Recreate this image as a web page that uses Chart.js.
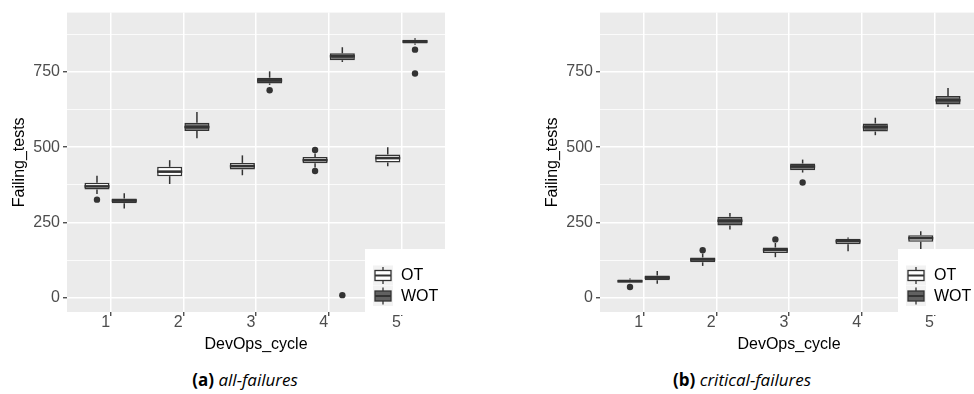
<!DOCTYPE html>
<html><head><meta charset="utf-8">
<script src="https://cdn.jsdelivr.net/npm/chart.js@4/dist/chart.umd.min.js"></script>
<style>
html,body{margin:0;padding:0;background:#fff;width:974px;height:394px;overflow:hidden;position:relative}
canvas{position:absolute;top:0}
#cA{left:0}
#cB{left:533px}
.cap{position:absolute;top:369px;font-family:"Open Sans",sans-serif;font-size:17px;line-height:22px;color:#000;white-space:nowrap;transform:translateX(-50%)}
.cap b{font-weight:700}
.cap i{font-style:italic}
</style></head><body>
<canvas id="cA" width="460" height="360"></canvas>
<canvas id="cB" width="460" height="360"></canvas>
<div class="cap" style="left:245px"><b>(a)</b> <i>all-failures</i></div>
<div class="cap" style="left:742px"><b>(b)</b> <i>critical-failures</i></div>
<script>
// ---- categories / labels ----
const cycles = ['1', '2', '3', '4', '5'];
const seriesNames = ['OT', 'WOT'];
const yTickValues = [0, 250, 500, 750];
const yMinorValues = [125, 375, 625, 875];
const xTitle = 'DevOps_cycle';
const yTitle = 'Failing_tests';

// ---- (a) all-failures ----
const allOT_lo  = [345, 378, 407, 433, 437];
const allOT_q1  = [360, 404, 426, 447, 449];
const allOT_med = [370, 419, 437, 457, 464];
const allOT_q3  = [382, 435, 448, 468, 476];
const allOT_hi  = [405, 457, 473, 479, 500];
const allOT_out = [[326], [], [], [421, 491], []];

const allWOT_lo  = [297, 530, 707, 783, 840];
const allWOT_q1  = [314, 554, 712, 789, 844];
const allWOT_med = [323, 567, 722, 802, 851];
const allWOT_q3  = [330, 581, 731, 812, 857];
const allWOT_hi  = [347, 617, 752, 832, 862];
const allWOT_out = [[], [], [689], [9], [824, 745]];

// ---- (b) critical-failures ----
const critOT_lo  = [51, 106, 135, 155, 158];
const critOT_q1  = [51, 118, 149, 178, 186];
const critOT_med = [55, 127, 159, 188, 198];
const critOT_q3  = [61, 134, 167, 196, 208];
const critOT_hi  = [64, 147, 182, 200, 221];
const critOT_out = [[36], [158], [194], [], []];

const critWOT_lo  = [47, 227, 416, 540, 634];
const critWOT_q1  = [58, 240, 424, 552, 642];
const critWOT_med = [67, 256, 436, 567, 656];
const critWOT_q3  = [74, 269, 446, 579, 670];
const critWOT_hi  = [89, 282, 459, 598, 697];
const critWOT_out = [[], [], [383], [], []];

// ---- styling ----
const FILLS = ['#FFFFFF', '#616161'];
const LINE = '#333333';
const PANEL = '#EBEBEB';
const FONT = '"Liberation Sans", Arial, sans-serif';

const boxPlugin = {
  id: 'boxExtras',
  beforeDraw(chart) {
    const {ctx, chartArea: a} = chart;
    ctx.save();
    ctx.fillStyle = PANEL;
    ctx.fillRect(a.left, a.top, a.right - a.left, a.bottom - a.top);
    ctx.restore();
  },
  afterDatasetsDraw(chart) {
    const ctx = chart.ctx, ys = chart.scales.y;
    const line = (x1, y1, x2, y2) => { ctx.beginPath(); ctx.moveTo(x1, y1); ctx.lineTo(x2, y2); ctx.stroke(); };
    chart.data.datasets.forEach((ds, di) => {
      const s = ds.stats;
      chart.getDatasetMeta(di).data.forEach((bar, i) => {
        const cx = bar.x, w = bar.width;
        ctx.save();
        ctx.strokeStyle = LINE;
        ctx.lineWidth = 1.5;
        line(cx, ys.getPixelForValue(s.hi[i]), cx, ys.getPixelForValue(s.q3[i]));
        line(cx, ys.getPixelForValue(s.q1[i]), cx, ys.getPixelForValue(s.lo[i]));
        ctx.lineWidth = 2.6;
        const ym = ys.getPixelForValue(s.med[i]);
        line(cx - w / 2, ym, cx + w / 2, ym);
        ctx.fillStyle = LINE;
        s.out[i].forEach(v => {
          ctx.beginPath();
          ctx.arc(cx, ys.getPixelForValue(v), 3.2, 0, Math.PI * 2);
          ctx.fill();
        });
        ctx.restore();
      });
    });
  },
  afterDraw(chart) {
    const ctx = chart.ctx, a = chart.chartArea;
    const bx = a.right - 80, by = a.bottom - 63;
    ctx.save();
    ctx.fillStyle = '#FFFFFF';
    ctx.fillRect(bx, by, 100, 66);
    chart.data.datasets.forEach((ds, k) => {
      const kx = bx + 8, ky = a.bottom - 46.5 + k * 20.5;
      ctx.fillStyle = '#F2F2F2';
      ctx.fillRect(kx, ky, 20, 20);
      ctx.fillStyle = ds.backgroundColor;
      ctx.strokeStyle = LINE;
      ctx.lineWidth = 1.3;
      ctx.fillRect(kx + 2, ky + 5, 16, 10);
      ctx.strokeRect(kx + 2, ky + 5, 16, 10);
      ctx.beginPath();
      ctx.moveTo(kx + 10, ky + 1.5); ctx.lineTo(kx + 10, ky + 5);
      ctx.moveTo(kx + 10, ky + 15); ctx.lineTo(kx + 10, ky + 18.5);
      ctx.stroke();
      ctx.lineWidth = 2;
      ctx.beginPath(); ctx.moveTo(kx + 2, ky + 10); ctx.lineTo(kx + 18, ky + 10); ctx.stroke();
      ctx.fillStyle = '#000';
      ctx.font = '16px ' + FONT;
      ctx.textBaseline = 'middle';
      ctx.textAlign = 'left';
      ctx.fillText(ds.label, kx + 28, ky + 10.5);
    });
    ctx.restore();
  }
};

function stats(lo, q1, med, q3, hi, out) { return {lo, q1, med, q3, hi, out}; }

function makeChart(id, otS, wotS) {
  const all = [otS, wotS];
  return new Chart(document.getElementById(id), {
    type: 'bar',
    data: {
      datasets: all.map((s, k) => ({
        label: seriesNames[k],
        data: cycles.map((c, i) => ({x: Number(c), y: [s.q1[i], s.q3[i]]})),
        stats: s,
        backgroundColor: FILLS[k],
        borderColor: LINE,
        borderWidth: 1.5,
        borderSkipped: false,
        categoryPercentage: 0.75,
        barPercentage: 0.92
      }))
    },
    options: {
      responsive: false,
      animation: false,
      devicePixelRatio: 1,
      events: [],
      layout: {padding: {top: 11, right: 15, left: 0, bottom: 0}},
      plugins: {legend: {display: false}, tooltip: {enabled: false}},
      scales: {
        x: {
          type: 'linear',
          min: 0.4, max: 5.6,
          offset: false,
          afterBuildTicks: ax => { ax.ticks = cycles.map(c => ({value: Number(c)})); },
          afterFit: ax => { ax.height = 48; },
          border: {display: false},
          grid: {offset: false, color: '#FFFFFF', lineWidth: 1.5, tickColor: LINE, tickLength: 4, tickWidth: 1.2},
          ticks: {
            color: '#4D4D4D', font: {family: FONT, size: 16}, padding: -3, labelOffset: -5,
            maxRotation: 0, autoSkip: false,
            callback: v => cycles[v - 1]
          },
          title: {display: true, text: xTitle, color: '#000', font: {family: FONT, size: 16}, padding: {top: 0, bottom: 6}}
        },
        y: {
          type: 'linear',
          min: -47, max: 947,
          afterBuildTicks: ax => { ax.ticks = yTickValues.concat(yMinorValues).sort((p, q) => p - q).map(v => ({value: v})); },
          afterFit: ax => { ax.width = 67; },
          border: {display: false},
          grid: {
            color: '#FFFFFF',
            lineWidth: c => yTickValues.includes(c.tick.value) ? 1.5 : 0.8,
            tickColor: c => yTickValues.includes(c.tick.value) ? LINE : 'rgba(0,0,0,0)',
            tickLength: 4, tickWidth: 1.2
          },
          ticks: {
            color: '#4D4D4D', font: {family: FONT, size: 16}, padding: 3, autoSkip: false,
            callback: v => yTickValues.includes(v) ? String(v) : ''
          },
          title: {display: true, text: yTitle, color: '#000', font: {family: FONT, size: 16}, padding: {top: 10, bottom: 0}}
        }
      }
    },
    plugins: [boxPlugin]
  });
}

makeChart('cA',
  stats(allOT_lo, allOT_q1, allOT_med, allOT_q3, allOT_hi, allOT_out),
  stats(allWOT_lo, allWOT_q1, allWOT_med, allWOT_q3, allWOT_hi, allWOT_out));
makeChart('cB',
  stats(critOT_lo, critOT_q1, critOT_med, critOT_q3, critOT_hi, critOT_out),
  stats(critWOT_lo, critWOT_q1, critWOT_med, critWOT_q3, critWOT_hi, critWOT_out));
</script>
</body></html>
